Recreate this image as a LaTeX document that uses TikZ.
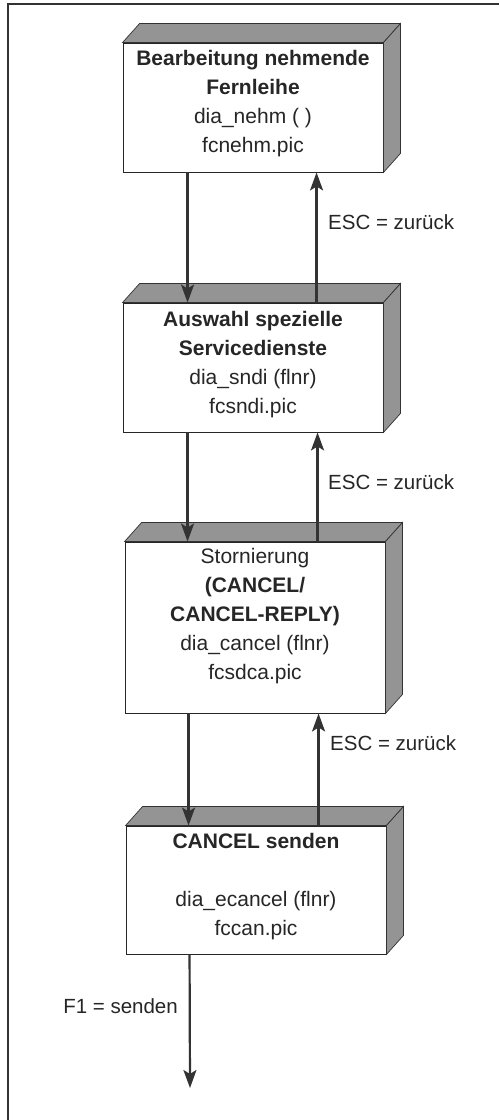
\documentclass[tikz,border=0pt]{standalone}
\usepackage{fontspec}
\setmainfont{Liberation Sans}
\usetikzlibrary{arrows.meta,calc}
\tikzset{
  face/.style={draw=black!85, line width=0.9pt, fill=white, minimum width=260pt, inner sep=0pt},
  txt/.style={align=center, text=black!85, font=\fontsize{21}{29}\selectfont, inner sep=0pt},
  lbl/.style={text=black!85, font=\fontsize{20.5}{29}\selectfont, inner sep=0pt},
  arr/.style={draw=black!80, line width=2.2pt, -{Stealth[length=18pt,width=13pt,inset=4pt]}},
  shade3d/.style={draw=black!80, line width=0.7pt, fill=black!42}
}
\newcommand{\depthfaces}[1]{%
  \path[shade3d] (#1.north west) -- ++(17,-19) -- ($(#1.north east)+(17,-19)$) -- (#1.north east) -- cycle;
  \path[shade3d] (#1.north east) -- ++(17,-19) -- ($(#1.south east)+(17,-19)$) -- (#1.south east) -- cycle;
}
\begin{document}
\begin{tikzpicture}[x=1pt,y=-1pt]
\useasboundingbox (0,0) rectangle (499,1120);
\fill[white] (0,0) rectangle (499,1120);
% frame
\draw[line width=1.3pt, black!80] (8,1120) -- (8,4) -- (499,4);

% boxes
\node[face, minimum height=129pt] (b1) at (253,107.5) {};
\depthfaces{b1}
\node[txt] (t1) at (253,103.5) {\textbf{Bearbeitung nehmende}\\\textbf{Fernleihe}\\dia\_nehm ( )\\fcnehm.pic};

\node[face, minimum height=129pt] (b2) at (253,367.5) {};
\depthfaces{b2}
\node[txt] (t2) at (253,365) {\textbf{Auswahl spezielle}\\\textbf{Servicedienste}\\dia\_sndi (flnr)\\fcsndi.pic};

\node[face, minimum height=171pt] (b3) at (255,627.5) {};
\depthfaces{b3}
\node[txt] (t3) at (255,616.5) {Stornierung\\\textbf{(CANCEL/}\\\textbf{CANCEL-REPLY)}\\dia\_cancel (flnr)\\fcsdca.pic};

\node[face, minimum height=128pt] (b4) at (256,890) {};
\depthfaces{b4}
\node[txt] (t4) at (256,886.5) {\textbf{CANCEL senden}\\\mbox{}\\dia\_ecancel (flnr)\\fccan.pic};

% arrows
\draw[arr] ($(b1.south west)+(65,0)$) -- ($(b2.north west)+(65,0)$);
\draw[arr] ($(b2.north west)+(194,0)$) -- ($(b1.south west)+(194,0)$);
\draw[arr] ($(b2.south west)+(65,0)$) -- ($(b3.north west)+(63,0)$);
\draw[arr] ($(b3.north west)+(193,0)$) -- ($(b2.south west)+(195,0)$);
\draw[arr] ($(b3.south west)+(64,0)$) -- ($(b4.north west)+(63,0)$);
\draw[arr] ($(b4.north west)+(193,0)$) -- ($(b3.south west)+(194,0)$);
\coordinate (end) at (190,1088);
\draw[arr] ($(b4.south west)+(64,0)$) -- (end);

% labels
\node[lbl, anchor=west] (e1) at (328,222) {ESC = zurück};
\node[lbl, anchor=west] (e2) at (328,482) {ESC = zurück};
\node[lbl, anchor=west] (e3) at (330,743) {ESC = zurück};
\node[lbl, anchor=east] (f1) at (178,1006) {F1 = senden};
\end{tikzpicture}
\end{document}
